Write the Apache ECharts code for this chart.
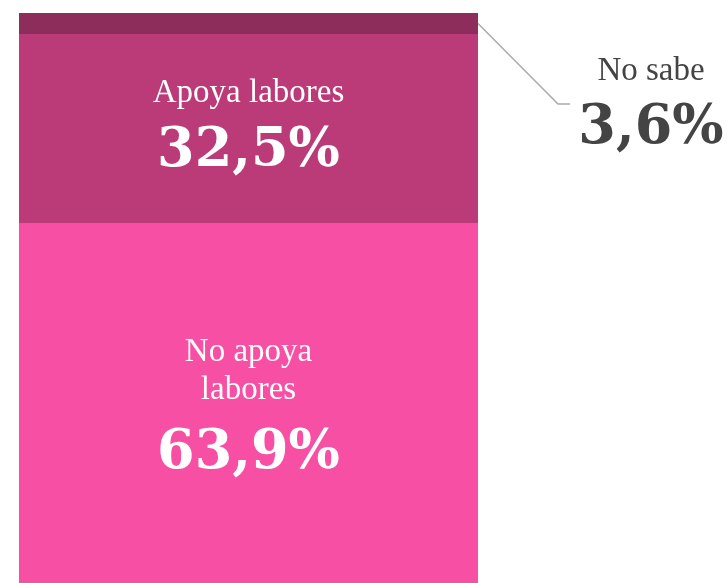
<!DOCTYPE html>
<html>
<head>
<meta charset="utf-8">
<script src="https://cdn.jsdelivr.net/npm/echarts@6/dist/echarts.min.js"></script>
<style>
  html, body { margin: 0; padding: 0; background: #fff; }
  #chart { width: 727px; height: 583px; }
</style>
</head>
<body>
<div id="chart"></div>
<script>
// --- data ---
const categories = ["Encuesta"];
const seriesNames = ["No apoya labores", "Apoya labores", "No sabe"];
const labelTexts = ["No apoya\nlabores", "Apoya labores", "No sabe"];
const values = [63.9, 32.5, 3.6];
const colors = ["#f64fa3", "#bb3b79", "#8c2d5b"];

const chart = echarts.init(document.getElementById("chart"), null, { renderer: "canvas" });

const fmt = (v) => v.toFixed(1).replace(".", ",") + "%";

const BAR_W = 459;
const titleFont = { fontFamily: "Liberation Serif", fontSize: 33, lineHeight: 38 };
const numFont = { fontFamily: "DejaVu Serif", fontWeight: "bold", fontSize: 54 };
// per-series label look: [text colour, number line height, vertical nudge]
const labelLook = [["#fff", 90, 7], ["#fff", 78, 4], ["#444", 78, 0]];

// outside label ("No sabe") placement
const outX = 651, outY = 110;

const series = seriesNames.map((name, i) => {
  const outside = i === 2;
  const [col, nLH, dy] = labelLook[i];
  const lines = labelTexts[i].split("\n");
  return {
    name,
    type: "bar",
    stack: "total",
    barWidth: BAR_W,
    data: [values[i]],
    itemStyle: { color: colors[i] },
    silent: true,
    label: {
      show: true,
      position: "inside",
      align: "center",
      offset: [0, dy],
      formatter: () => lines.map((l) => `{t|${l}}`).join("\n") + `\n{n|${fmt(values[i])}}`,
      rich: {
        t: Object.assign({ color: col }, titleFont),
        n: Object.assign({ color: col, lineHeight: nLH }, numFont),
      },
    },
    labelLayout: outside
      ? { x: outX, y: outY, align: "center", verticalAlign: "middle" }
      : undefined,
  };
});

chart.setOption({
  animation: false,
  grid: { left: 19, top: 13, width: 459, height: 582, outerBoundsMode: "none" },
  xAxis: { type: "category", data: categories, show: false },
  yAxis: { type: "value", min: 0, max: 100, show: false },
  series,
});

// leader line from the middle of the "No sabe" segment to its outside label
const midVal = values[0] + values[1] + values[2] / 2;
const [cx, cy] = chart.convertToPixel({ seriesIndex: 2 }, [categories[0], midVal]);
const sx = cx + BAR_W / 2;
chart.setOption({
  graphic: [{
    type: "polyline",
    silent: true,
    shape: { points: [[sx, cy], [sx + 80, 104], [sx + 92, 104]] },
    style: { stroke: "#aaa", lineWidth: 1.5, fill: null },
  }],
});
</script>
</body>
</html>
